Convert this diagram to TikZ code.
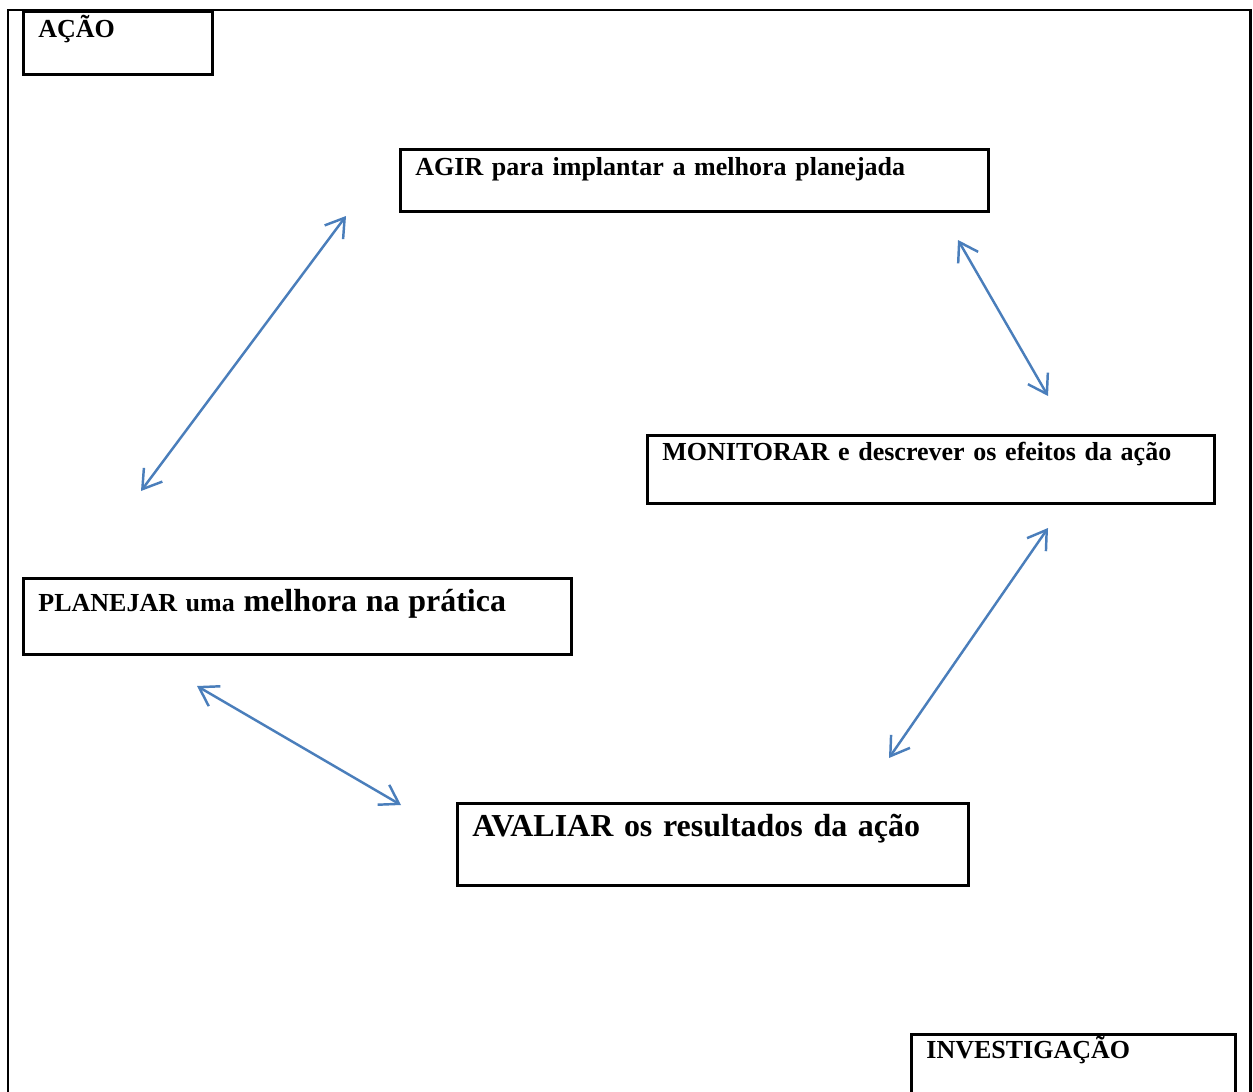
\documentclass[tikz,border=0pt]{standalone}
\usepackage[svgnames]{xcolor}
\usepackage{fontspec}
\setmainfont{Liberation Serif}
\usepackage{tikz}
\usetikzlibrary{arrows.meta,positioning}
\definecolor{linkblue}{RGB}{74,126,187}
\newcommand{\bigtxt}{\fontsize{18.2}{22}\selectfont}

\begin{document}
\begin{tikzpicture}[
            x=0.02cm, y=-0.02cm,
            box/.style={draw,line width=1.6pt,anchor=north west,inner xsep=0.3cm,inner ysep=0pt,
                        align=left,font=\fontsize{14.8}{18}\selectfont\bfseries},
            link/.style={draw=linkblue,line width=1.4pt,
                         {Straight Barb[length=0.36cm,width=0.46cm]}-{Straight Barb[length=0.36cm,width=0.46cm]}}
        ]
        \useasboundingbox (0,0) rectangle (1253,1091);

        % Draw frame %
        \draw[line width=1.7pt] (8,1100) -- (8,10) -- (1250,10) -- (1250,1100);

        % Draw corner boxes %
        \node[box,text width=3.18cm,text height=0.53cm,text depth=0.73cm] (acao) at (22,10) {AÇÃO};
        \node[box,text width=5.88cm,text height=0.48cm,text depth=1.4cm] (investigacao) at (910,1033) {INVESTIGAÇÃO};

        % Draw cycle boxes %
        \node[box,text width=11.16cm,text height=0.52cm,text depth=0.72cm] (agir) at (399,148) {AGIR para implantar a melhora planejada};
        \node[box,text width=10.74cm,text height=0.50cm,text depth=0.86cm] (monitorar) at (646,434) {MONITORAR e descrever os efeitos da ação};
        \node[box,text width=10.36cm,text height=0.66cm,text depth=0.86cm] (planejar) at (22,577) {PLANEJAR uma {\bigtxt melhora na prática}};
        \node[box,text width=9.62cm,text height=0.66cm,text depth=0.98cm,font=\bigtxt\bfseries] (avaliar) at (456,802) {AVALIAR os resultados da ação};

        % Arrow ends %
        \coordinate (p1) at (141,491);
        \coordinate (a1) at (346,216);
        \coordinate (a2) at (958,240);
        \coordinate (m1) at (1048,396);
        \coordinate (m2) at (1048,528);
        \coordinate (v1) at (889,758);
        \coordinate (v2) at (401,805);
        \coordinate (p2) at (197,686);

        % Draw arrows %
        \draw[link] (p1) -- (a1);
        \draw[link] (a2) -- (m1);
        \draw[link] (m2) -- (v1);
        \draw[link] (v2) -- (p2);
\end{tikzpicture}
\end{document}
